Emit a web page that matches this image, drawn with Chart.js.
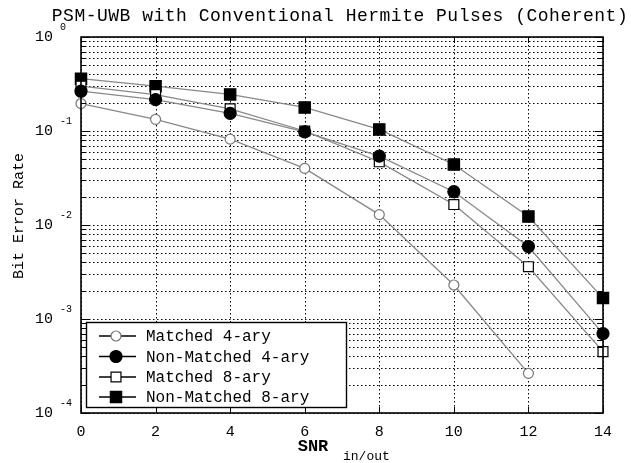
<!DOCTYPE html>
<html>
<head>
<meta charset="utf-8">
<script src="https://cdn.jsdelivr.net/npm/chart.js@4/dist/chart.umd.min.js"></script>
<style>
  html, body { margin: 0; padding: 0; background: #fff; }
  #wrap { width: 631px; height: 463px; }
</style>
</head>
<body>
<div id="wrap"><canvas id="ber"></canvas></div>
<script>
// SNR (in/out) in dB
const snr = [0, 2, 4, 6, 8, 10, 12, 14];

// bit error rates
const matched4 = [0.196, 0.133, 0.082, 0.040, 0.0129, 0.0023, 0.000264];
const nonMatched4 = [0.265, 0.216, 0.154, 0.098, 0.054, 0.0226, 0.0059, 0.00070];
const matched8 = [0.30, 0.244, 0.172, 0.10, 0.047, 0.0165, 0.0036, 0.00045];
const nonMatched8 = [0.36, 0.30, 0.245, 0.178, 0.104, 0.044, 0.0123, 0.00167];

const seriesNames = ['Matched 4-ary', 'Non-Matched 4-ary', 'Matched 8-ary', 'Non-Matched 8-ary'];

// tick labels
const xTicks = [0, 2, 4, 6, 8, 10, 12, 14];
const yDecades = [-4, -3, -2, -1, 0];

const MONO = '"Liberation Mono", "DejaVu Sans Mono", monospace';

function pts(ys) {
    return ys.map((y, i) => ({ x: snr[i], y: y }));
}

// styles for the four curves
const styles = [
    { pointStyle: 'circle', radius: 5, fill: '#fff', stroke: '#777' },
    { pointStyle: 'circle', radius: 6, fill: '#000', stroke: '#000' },
    { pointStyle: 'rect', radius: 7, fill: '#fff', stroke: '#000' },
    { pointStyle: 'rect', radius: 8, fill: '#000', stroke: '#000' }
];
const seriesData = [matched4, nonMatched4, matched8, nonMatched8];

const datasets = seriesData.map((d, i) => ({
    label: seriesNames[i],
    data: pts(d),
    borderColor: '#888',
    borderWidth: 1.3,
    pointStyle: styles[i].pointStyle,
    pointRadius: styles[i].radius,
    pointBackgroundColor: styles[i].fill,
    pointBorderColor: styles[i].stroke,
    pointBorderWidth: 1.2,
    tension: 0,
    clip: false
}));

// every 1..9 x 10^e value, for the log grid
function logTickValues() {
    const vals = [];
    for (let e = yDecades[0]; e < yDecades[yDecades.length - 1]; e++) {
        for (let m = 1; m < 10; m++) vals.push(m * Math.pow(10, e));
    }
    vals.push(Math.pow(10, yDecades[yDecades.length - 1]));
    return vals;
}

function isDecade(v) {
    const l = Math.log10(v);
    return Math.abs(l - Math.round(l)) < 1e-9;
}

// dotted grid, drawn under the curves
const gridPlugin = {
    id: 'dotgrid',
    beforeDatasetsDraw(chart) {
        const ctx = chart.ctx;
        const a = chart.chartArea;
        const xs = chart.scales.x, ys = chart.scales.y;
        ctx.save();
        ctx.strokeStyle = '#000';
        ctx.lineWidth = 1;
        ctx.setLineDash([1.5, 2.5]);
        ctx.beginPath();
        logTickValues().forEach(v => {
            const py = Math.round(ys.getPixelForValue(v)) + 0.5;
            ctx.moveTo(a.left, py); ctx.lineTo(a.right, py);
        });
        xTicks.forEach(v => {
            const px = Math.round(xs.getPixelForValue(v)) + 0.5;
            ctx.moveTo(px, a.top); ctx.lineTo(px, a.bottom);
        });
        ctx.stroke();
        ctx.restore();
    }
};

// frame, inner ticks, exponents, axis titles, title and legend
const decorPlugin = {
    id: 'decor',
    afterDraw(chart) {
        const ctx = chart.ctx;
        const a = chart.chartArea;
        const xs = chart.scales.x, ys = chart.scales.y;
        ctx.save();

        // inward tick marks
        ctx.strokeStyle = '#000';
        ctx.lineWidth = 1;
        ctx.setLineDash([]);
        ctx.beginPath();
        logTickValues().forEach(v => {
            const py = Math.round(ys.getPixelForValue(v)) + 0.5;
            const len = isDecade(v) ? 8 : 5;
            ctx.moveTo(a.left, py); ctx.lineTo(a.left + len, py);
            ctx.moveTo(a.right, py); ctx.lineTo(a.right - len, py);
        });
        xTicks.forEach(v => {
            const px = Math.round(xs.getPixelForValue(v)) + 0.5;
            ctx.moveTo(px, a.bottom); ctx.lineTo(px, a.bottom - 6);
            ctx.moveTo(px, a.top); ctx.lineTo(px, a.top + 6);
        });
        ctx.stroke();

        // frame
        ctx.lineWidth = 1.6;
        ctx.strokeRect(a.left, a.top, a.right - a.left, a.bottom - a.top);

        // exponents of the 10^n labels
        ctx.fillStyle = '#000';
        ctx.font = '10px ' + MONO;
        ctx.textAlign = 'left';
        ctx.textBaseline = 'middle';
        yDecades.forEach(e => {
            const py = ys.getPixelForValue(Math.pow(10, e));
            ctx.fillText(String(e), 60, py - 10);
        });

        // title
        ctx.font = '18px ' + MONO;
        ctx.textAlign = 'center';
        if ('letterSpacing' in ctx) ctx.letterSpacing = '0.5px';
        ctx.fillText('PSM-UWB with Conventional Hermite Pulses (Coherent)', 340, 16);
        if ('letterSpacing' in ctx) ctx.letterSpacing = '0px';

        // y axis title
        ctx.save();
        ctx.translate(19, 216);
        ctx.rotate(-Math.PI / 2);
        ctx.font = '15px ' + MONO;
        ctx.fillText('Bit Error Rate', 0, 0);
        ctx.restore();

        // x axis title with subscript
        ctx.font = 'bold 17px ' + MONO;
        ctx.textAlign = 'center';
        ctx.fillText('SNR', 313, 447);
        ctx.font = '13px ' + MONO;
        ctx.textAlign = 'left';
        ctx.fillText('in/out', 343, 457);

        // legend box
        const lx = 86, ly = 322, lw = 260, lh = 85;
        ctx.fillStyle = '#fff';
        ctx.fillRect(lx, ly, lw, lh);
        ctx.lineWidth = 1.4;
        ctx.strokeStyle = '#000';
        ctx.strokeRect(lx + 0.5, ly + 0.5, lw, lh);
        const rows = [336, 356.5, 377, 397];
        chart.data.datasets.forEach((ds, i) => {
            const y = rows[i];
            ctx.strokeStyle = '#000';
            ctx.lineWidth = 1.3;
            ctx.beginPath();
            ctx.moveTo(99, y);
            ctx.lineTo(136, y);
            ctx.stroke();
            ctx.fillStyle = ds.pointBackgroundColor;
            ctx.strokeStyle = ds.pointBorderColor;
            ctx.lineWidth = ds.pointBorderWidth;
            Chart.helpers.drawPoint(ctx, {
                pointStyle: ds.pointStyle,
                radius: ds.pointRadius,
                borderWidth: ds.pointBorderWidth,
                rotation: 0
            }, 116, y);
            ctx.fillStyle = '#000';
            ctx.font = '16px ' + MONO;
            ctx.textAlign = 'left';
            ctx.textBaseline = 'middle';
            ctx.fillText(ds.label, 146, y + 1);
        });

        ctx.restore();
    }
};

new Chart(document.getElementById('ber').getContext('2d'), {
    type: 'line',
    data: { datasets: datasets },
    options: {
        responsive: true,
        maintainAspectRatio: false,
        animation: false,
        layout: { padding: { top: 34, right: 28, left: 0, bottom: 0 } },
        plugins: {
            legend: { display: false },
            title: { display: false },
            tooltip: { enabled: false }
        },
        scales: {
            x: {
                type: 'linear',
                min: 0,
                max: 14,
                afterBuildTicks: scale => { scale.ticks = xTicks.map(v => ({ value: v })); },
                afterFit: scale => { scale.height = 50; },
                grid: { display: false, drawTicks: false },
                border: { display: false },
                ticks: {
                    color: '#000',
                    padding: 10,
                    maxRotation: 0,
                    font: { family: MONO, size: 15 }
                }
            },
            y: {
                type: 'logarithmic',
                min: 1e-4,
                max: 1,
                afterBuildTicks: scale => { scale.ticks = logTickValues().map(v => ({ value: v })); },
                afterFit: scale => { scale.width = 81; },
                grid: { display: false, drawTicks: false },
                border: { display: false },
                ticks: {
                    color: '#000',
                    padding: 28,
                    autoSkip: false,
                    font: { family: MONO, size: 15 },
                    callback: v => (isDecade(v) ? '10' : '')
                }
            }
        }
    },
    plugins: [gridPlugin, decorPlugin]
});
</script>
</body>
</html>
